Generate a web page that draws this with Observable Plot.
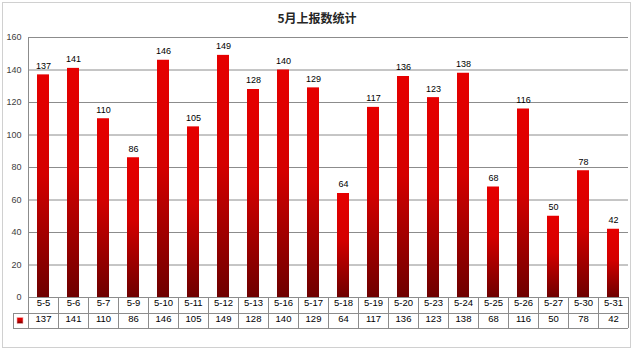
<!DOCTYPE html>
<html><head><meta charset="utf-8">
<script src="https://cdn.jsdelivr.net/npm/d3@7"></script>
<script src="https://cdn.jsdelivr.net/npm/@observablehq/plot@0.6"></script>
<style>
html,body{margin:0;padding:0;background:#fff;}
#wrap{position:relative;width:634px;height:353px;overflow:hidden;}
#title{position:absolute;left:0;top:9px;width:634px;text-align:center;font-family:"Noto Sans CJK SC",sans-serif;font-weight:bold;font-size:12px;color:#262626;}
#border{position:absolute;left:2px;top:2px;width:629px;height:346px;border:1px solid #d0d0d0;box-sizing:border-box;}
svg{position:absolute;left:0;top:0;}
</style></head>
<body><div id="wrap"><div id="border"></div><div id="title">5月上报数统计</div></div>
<script>
const categories = ["5-5","5-6","5-7","5-9","5-10","5-11","5-12","5-13","5-16","5-17","5-18","5-19","5-20","5-23","5-24","5-25","5-26","5-27","5-30","5-31"];
const values = [137,141,110,86,146,105,149,128,140,129,64,117,136,123,138,68,116,50,78,42];
const yTicks = [0,20,40,60,80,100,120,140,160];

const data = categories.map((c,i)=>({date:c, value:values[i]}));
const font = "'Liberation Sans', Arial, sans-serif";

const chart = Plot.plot({
  width:634, height:353,
  marginLeft:28, marginRight:6, marginTop:37, marginBottom:56,
  style:{fontFamily:font, fontSize:"9px", background:"transparent", overflow:"visible"},
  x:{domain:categories, paddingInner:0.6, paddingOuter:0.3, axis:null, label:null},
  y:{domain:[0,160], axis:null, label:null},
  marks:[
    Plot.gridY(yTicks.filter(t=>t>0), {stroke:"#8c8c8c", strokeOpacity:1}),
    Plot.axisY(yTicks, {tickSize:0, tickPadding:7, fill:"#404040", fontSize:9, label:null}),
    Plot.frame({anchor:"left", stroke:"#8c8c8c"}),
    Plot.barY(data, {x:"date", y:"value", fill:"url(#barGrad)"}),
    Plot.text(data, {x:"date", y:"value", text:d=>String(d.value), dy:-9, fill:"#000", fontSize:9}),
    Plot.text(data, {x:"date", text:"date", frameAnchor:"bottom", dy:8.5, fill:"#000", fontSize:9.5}),
    Plot.text(data, {x:"date", text:d=>String(d.value), frameAnchor:"bottom", dy:24, fill:"#000", fontSize:9.5})
  ]
});

const svg = d3.select(chart);
const defs = svg.insert("defs", ":first-child");
const g = defs.append("linearGradient").attr("id","barGrad").attr("x1",0).attr("y1",0).attr("x2",0).attr("y2",1);
g.append("stop").attr("offset","0%").attr("stop-color","#e60000");
g.append("stop").attr("offset","45%").attr("stop-color","#d40000");
g.append("stop").attr("offset","100%").attr("stop-color","#6e0000");

// data table grid
const xs = chart.scale("x");
const ys = chart.scale("y");
const step = xs.step, bw = xs.bandwidth;
const edges = categories.map(c=>xs.apply(c)-(step-bw)/2);
edges.push(edges[edges.length-1]+step);
const top0 = ys.apply(0), r1 = top0+16, r2 = r1+15;
const left = edges[0], right = edges[edges.length-1];
const legendLeft = left-15;
const tg = svg.append("g").attr("stroke","#8c8c8c").attr("shape-rendering","crispEdges");
tg.append("line").attr("x1",left).attr("x2",right).attr("y1",top0).attr("y2",top0);
tg.append("line").attr("x1",legendLeft).attr("x2",right).attr("y1",r1).attr("y2",r1);
tg.append("line").attr("x1",legendLeft).attr("x2",right).attr("y1",r2).attr("y2",r2);
edges.forEach(x=>tg.append("line").attr("x1",x).attr("x2",x).attr("y1",top0).attr("y2",r2));
tg.append("line").attr("x1",legendLeft).attr("x2",legendLeft).attr("y1",r1).attr("y2",r2);
svg.append("rect").attr("x",legendLeft+4).attr("y",r1+4.5).attr("width",6).attr("height",6).attr("fill","url(#barGrad)").attr("stroke","#f5b0b0").attr("stroke-width",0.6);

document.getElementById("wrap").appendChild(chart);
</script>
</body></html>
